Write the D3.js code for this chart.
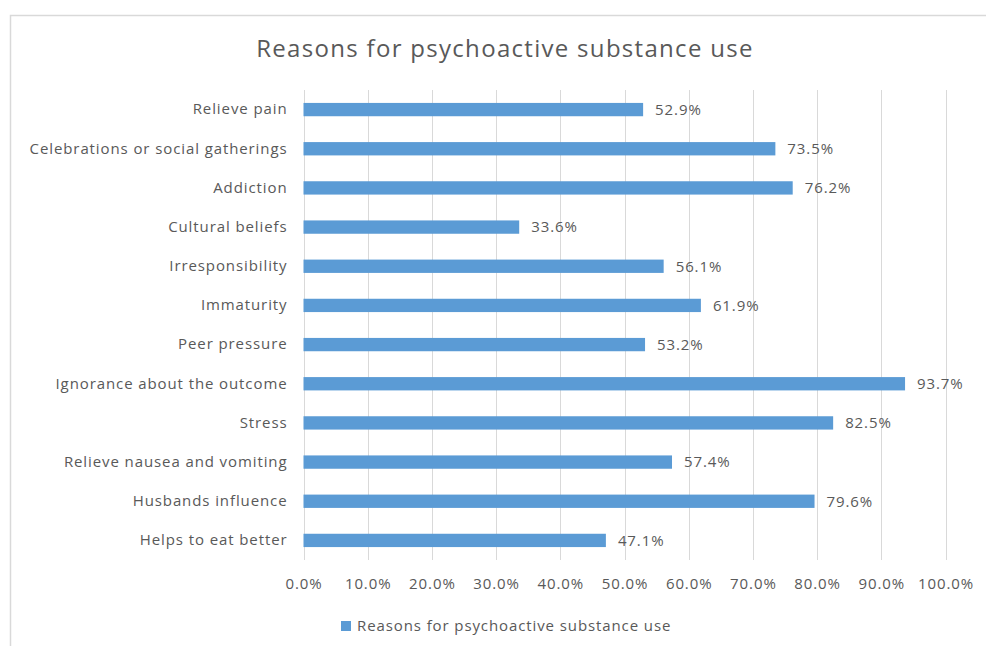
<!DOCTYPE html>
<html>
<head>
<meta charset="utf-8">
<script src="https://cdn.jsdelivr.net/npm/d3@7"></script>
<style>
  html, body { margin: 0; padding: 0; background: #fff; }
  svg { display: block; }
  text { font-family: "Open Sans", "Noto Sans", sans-serif; fill: #595959; }
</style>
</head>
<body>
<svg id="chart" width="986" height="646"></svg>
<script>
const categories = [
  "Relieve pain",
  "Celebrations or social gatherings",
  "Addiction",
  "Cultural beliefs",
  "Irresponsibility",
  "Immaturity",
  "Peer pressure",
  "Ignorance about the outcome",
  "Stress",
  "Relieve nausea and vomiting",
  "Husbands influence",
  "Helps to eat better"
];
const values = [52.9, 73.5, 76.2, 33.6, 56.1, 61.9, 53.2, 93.7, 82.5, 57.4, 79.6, 47.1];
const xTicks = [0, 10, 20, 30, 40, 50, 60, 70, 80, 90, 100];
const seriesName = "Reasons for psychoactive substance use";
const chartTitle = "Reasons for psychoactive substance use";

const svg = d3.select("#chart");
const W = 986, H = 646;
const barColor = "#5B9BD5";
const textColor = "#595959";
const ls = "0.9px";

// chart area border
svg.append("rect")
  .attr("x", 10.5).attr("y", 15.5)
  .attr("width", W + 10).attr("height", H + 10)
  .attr("fill", "#fff").attr("stroke", "#d9d9d9").attr("stroke-width", 1.5);

const plotLeft = 303.5, plotRight = 945.5, plotTop = 90, plotBottom = 560;

const x = d3.scaleLinear().domain([0, 100]).range([plotLeft, plotRight]);
const y = d3.scaleBand().domain(categories).range([plotTop, plotBottom]).paddingInner(0.66).paddingOuter(0.33);

// title
svg.append("text")
  .attr("x", 505).attr("y", 57)
  .attr("text-anchor", "middle")
  .style("font-size", "24px")
  .style("letter-spacing", "1.3px")
  .text(chartTitle);

// gridlines
svg.append("g")
  .selectAll("line")
  .data(xTicks)
  .join("line")
  .attr("x1", d => Math.round(x(d)) + 0.5).attr("x2", d => Math.round(x(d)) + 0.5)
  .attr("y1", plotTop).attr("y2", plotBottom)
  .attr("stroke", "#d9d9d9").attr("stroke-width", 1);

// x axis labels
const xAxis = d3.axisBottom(x).tickValues(xTicks).tickSize(0).tickPadding(0)
  .tickFormat(d => d3.format(".1f")(d) + "%");
const gx = svg.append("g").attr("transform", `translate(0, ${plotBottom + 18})`).call(xAxis);
gx.select(".domain").remove();
gx.selectAll("text").style("font-size", "15px").style("letter-spacing", ls)
  .attr("fill", textColor).style("font-family", '"Open Sans", sans-serif');

// y axis labels
const yAxis = d3.axisLeft(y).tickSize(0).tickPadding(0);
const gy = svg.append("g").attr("transform", `translate(${plotLeft - 16}, 0)`).call(yAxis);
gy.select(".domain").remove();
gy.selectAll("text").style("font-size", "15px").style("letter-spacing", ls)
  .attr("fill", textColor).style("font-family", '"Open Sans", sans-serif');

// bars
svg.append("g")
  .selectAll("rect")
  .data(values)
  .join("rect")
  .attr("x", x(0))
  .attr("y", (d, i) => y(categories[i]))
  .attr("width", d => x(d) - x(0))
  .attr("height", y.bandwidth())
  .attr("fill", barColor);

// value labels
svg.append("g")
  .selectAll("text")
  .data(values)
  .join("text")
  .attr("x", d => x(d) + 12)
  .attr("y", (d, i) => y(categories[i]) + y.bandwidth() / 2)
  .attr("dy", "0.35em")
  .style("font-size", "15px")
  .style("letter-spacing", ls)
  .text(d => d3.format(".1f")(d) + "%");

// legend
const lg = svg.append("g").attr("transform", "translate(341, 626)");
lg.append("rect").attr("x", 0).attr("y", -5).attr("width", 10).attr("height", 10).attr("fill", barColor);
lg.append("text").attr("x", 16).attr("y", 0).attr("dy", "0.35em")
  .style("font-size", "15px").style("letter-spacing", ls).text(seriesName);
</script>
</body>
</html>
